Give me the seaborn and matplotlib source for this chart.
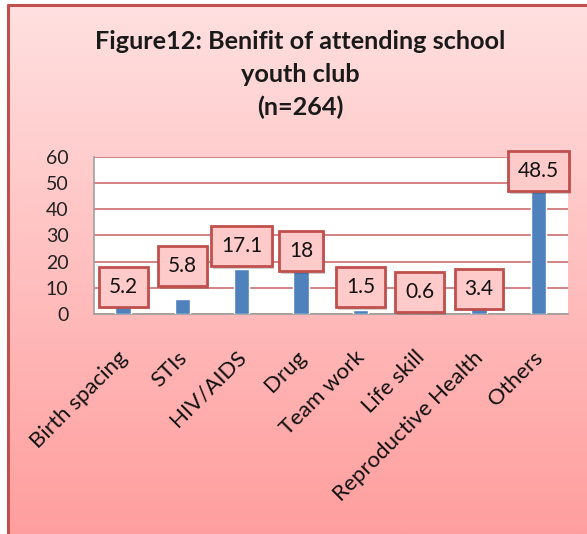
import matplotlib
matplotlib.use("Agg")
import matplotlib.pyplot as plt
import matplotlib.patheffects as pe
import matplotlib.transforms as mtransforms
from matplotlib.lines import Line2D
import numpy as np
import seaborn as sns

# chart data
categories = ["Birth spacing", "STIs", "HIV/AIDS", "Drug", "Team work",
              "Life skill", "Reproductive Health", "Others"]
values = [5.2, 5.8, 17.1, 18, 1.5, 0.6, 3.4, 48.5]
value_labels = ["5.2", "5.8", "17.1", "18", "1.5", "0.6", "3.4", "48.5"]
y_ticks = [0, 10, 20, 30, 40, 50, 60]
title = "Figure12: Benifit of attending school\nyouth club\n(n=264)"

# where the data label boxes sit (data units, as placed in the original)
label_pos = [10.4, 18.3, 26.0, 24.1, 10.3, 8.4, 9.6, 54.6]

sns.set_style("white")
plt.rcParams["font.family"] = ["Lato", "DejaVu Sans"]

W, H = 587, 534
fig = plt.figure(figsize=(W / 100, H / 100), dpi=100)
fig.patch.set_facecolor("white")

# pink gradient background
bg = fig.add_axes([8 / W, 0, 1 - 8 / W, 1 - 6 / H])
top = np.array([255, 224, 224]) / 255
bot = np.array([255, 158, 158]) / 255
t = np.linspace(0, 1, 256)[:, None]
grad = top[None, :] * (1 - t) + bot[None, :] * t
bg.imshow(grad[:, None, :], aspect="auto", extent=[0, 1, 0, 1])
bg.set_axis_off()
bg.set_zorder(-5)

# red frame line (top and left)
fig.add_artist(Line2D([7.5 / W, 1], [1 - 5 / H, 1 - 5 / H], transform=fig.transFigure,
                      color="#c0504d", lw=2.2))
fig.add_artist(Line2D([7.5 / W, 7.5 / W], [0, 1 - 5 / H], transform=fig.transFigure,
                      color="#c0504d", lw=2.2))

fig.text(300 / W, 1 - 30 / H, title, ha="center", va="top", fontsize=18.2,
         fontweight="bold", color="#1a1a1a", linespacing=1.52)

ax = fig.add_axes([93.5 / W, 1 - 314 / H, (568 - 93.5) / W, 157 / H])
ax.set_facecolor("white")
sns.barplot(x=categories, y=values, color="#4f81bd", saturation=1, width=0.26, ax=ax,
            zorder=3)

ax.set_ylim(0, 60)
ax.set_yticks(y_ticks)
ax.set_xlim(-0.5, len(categories) - 0.5)
ax.yaxis.grid(True, color="#c86060", lw=1.1)
ax.set_axisbelow(True)
for s in ["top", "right"]:
    ax.spines[s].set_visible(False)
for s in ["left", "bottom"]:
    ax.spines[s].set_color("#a0a0a0")
    ax.spines[s].set_linewidth(1.2)
ax.set_xlabel("")
ax.set_ylabel("")
ax.tick_params(axis="y", length=0, pad=18, labelsize=14, labelcolor="#222222")
ax.tick_params(axis="x", length=0, pad=29, labelsize=16, labelcolor="#111111")
offset = mtransforms.ScaledTranslation(1 / 72, 0, fig.dpi_scale_trans)
for lab in ax.get_xticklabels():
    lab.set_rotation(45)
    lab.set_ha("right")
    lab.set_va("center")
    lab.set_rotation_mode("anchor")
    lab.set_transform(lab.get_transform() + offset)

# data labels in boxes
for i, (txt, yp) in enumerate(zip(value_labels, label_pos)):
    a = ax.text(i, yp, txt, ha="center", va="center", fontsize=15, color="#111111",
                zorder=6, clip_on=False,
                bbox=dict(boxstyle="square,pad=0.47", facecolor="#ffcaca",
                          edgecolor="#c0504d", lw=2))
    a.get_bbox_patch().set_path_effects([
        pe.SimplePatchShadow(offset=(1.5, -2), alpha=0.25), pe.Normal()])

fig.savefig("out.png", dpi=100)
